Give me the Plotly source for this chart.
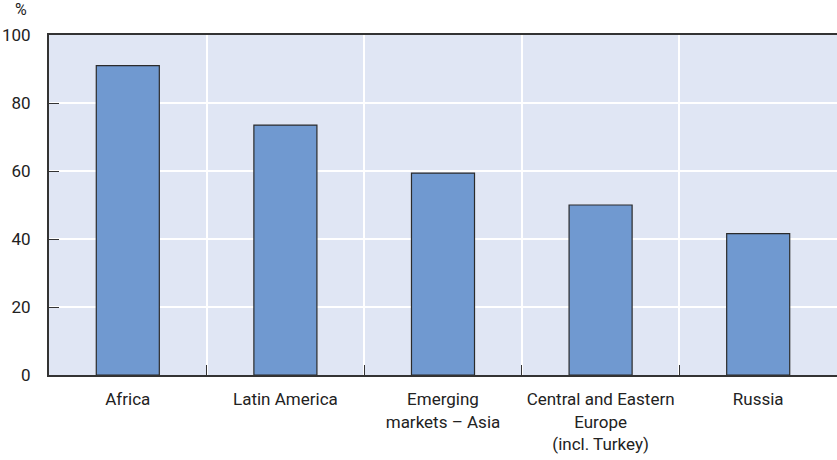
import plotly.graph_objects as go

categories = ["Africa", "Latin America", "Emerging<br>markets – Asia",
              "Central and Eastern<br>Europe<br>(incl. Turkey)", "Russia"]
values = [91.0, 73.5, 59.4, 50.0, 41.6]
y_ticks = [0, 20, 40, 60, 80, 100]

FONT = "Roboto, Liberation Sans, sans-serif"

fig = go.Figure()
fig.add_trace(go.Bar(
    x=categories, y=values, width=0.4,
    marker=dict(color="#7099d0", line=dict(color="#2b2b2b", width=1.2)),
))

fig.update_layout(
    width=837, height=460,
    margin=dict(l=49, r=0, t=35, b=85),
    paper_bgcolor="white", plot_bgcolor="#e0e6f4",
    font=dict(family=FONT, size=17, color="#222"),
    showlegend=False,
    bargap=0.6,
    annotations=[dict(text="%", xref="paper", yref="paper", x=-0.026, y=1.0,
                      xanchor="right", yanchor="bottom", yshift=14, showarrow=False,
                      font=dict(family=FONT, size=16, color="#222"))],
)
fig.update_xaxes(
    showline=True, linecolor="#333", linewidth=2, mirror=True,
    showgrid=True, gridcolor="white", gridwidth=1.5,
    tickson="boundaries", ticks="inside", ticklen=10, tickcolor="#333", tickwidth=1,
    ticklabelstandoff=8, tickangle=0, automargin=False,
)
fig.update_yaxes(
    range=[0, 100], tickvals=y_ticks,
    showline=True, linecolor="#333", linewidth=2,
    showgrid=True, gridcolor="white", gridwidth=1.5,
    ticks="inside", ticklen=10, tickcolor="#333", tickwidth=1,
    ticklabelstandoff=13, zeroline=False, automargin=False,
)

fig.write_html("out.html", config={"displayModeBar": False},
               post_script="document.body.style.margin='0';")
